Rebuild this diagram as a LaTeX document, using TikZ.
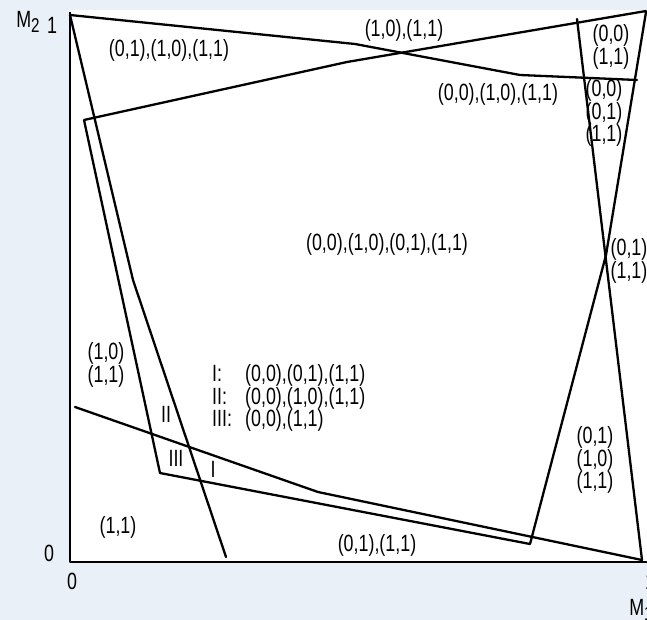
\documentclass[tikz,border=0pt]{standalone}
\usepackage{fontspec}
\setmainfont{Liberation Sans}[FakeStretch=0.76]
\definecolor{bgblue}{RGB}{233,240,248}
\begin{document}
\begin{tikzpicture}[x=1pt,y=-1pt,line join=round,line cap=round,
  curve/.style={line width=2.3pt},
  axis/.style={line width=2.8pt,line cap=butt},
  lbl/.style={font=\fontsize{23.5}{21.7}\selectfont,inner sep=0pt,align=center},
  lst/.style={font=\fontsize{23.5}{18}\selectfont,inner sep=0pt,align=left}]
\fill[bgblue] (0,0) rectangle (647,620);
\useasboundingbox (0,0) rectangle (647,620);
\fill[white] (70,10) rectangle (647,562);
% axes
\coordinate (o) at (70,562);
\coordinate (ytop) at (70,12);
\coordinate (xend) at (647,562);
\draw[axis] (ytop) -- (o) -- (xend);
% vertices
\coordinate (tl) at (70,15);
\coordinate (t1) at (355,44);
\coordinate (t2) at (520,75);
\coordinate (t3) at (637,80);
\coordinate (r0) at (646,11);
\coordinate (r1) at (347,62);
\coordinate (p0) at (84,120);
\coordinate (p1) at (160,473);
\coordinate (p2) at (530,544);
\coordinate (b1) at (606,255);
\coordinate (b2) at (646,12);
\coordinate (d0) at (75,407);
\coordinate (d1) at (318,492);
\coordinate (br) at (642,560);
\coordinate (e1) at (133,280);
\coordinate (e2) at (226,557);
\coordinate (a0) at (577,19);
% curves
\draw[curve] (tl) -- (t1) -- (t2) -- (t3);
\draw[curve] (r0) -- (r1) -- (p0) -- (p1) -- (p2) -- (b1) -- (b2);
\draw[curve] (d0) -- (d1) -- (br);
\draw[curve] (tl) -- (e1) -- (e2);
\draw[curve] (a0) -- (br);
% axis labels
\node[lbl] (m2) at (28,22) {M\raisebox{-5pt}{\fontsize{20}{20}\selectfont 2}};
\node[lbl] (y1) at (52,25) {1};
\node[lbl] (y0) at (49,553) {0};
\node[lbl] (x0) at (72,581) {0};
\node[lbl] (x1) at (650,581) {1};
\node[lbl] (m1) at (641,610) {M\raisebox{-5pt}{\fontsize{20}{20}\selectfont 1}};
% region labels
\node[lbl] (l1) at (169,50) {(0,1),(1,0),(1,1)};
\node[lbl] (l2) at (404,30) {(1,0),(1,1)};
\node[lbl] (l3) at (611,47) {(0,0)\\(1,1)};
\node[lbl] (l4) at (498,94) {(0,0),(1,0),(1,1)};
\node[lbl] (l5) at (604,113) {(0,0)\\(0,1)\\(1,1)};
\node[lbl] (l6) at (387,244) {(0,0),(1,0),(0,1),(1,1)};
\node[lbl,align=left] (l7) at (629,261) {(0,1)\\(1,1)};
\node[lbl] (l8) at (106,365) {(1,0)\\(1,1)};
\node[lbl] (l9) at (595,460) {(0,1)\\(1,0)\\(1,1)};
\node[lbl] (l10) at (118,527) {(1,1)};
\node[lbl] (l11) at (377,545) {(0,1),(1,1)};
\node[lbl] (rII) at (166,414) {II};
\node[lbl] (rIII) at (176,458) {III};
\node[lbl] (rI) at (213,469) {I};
% legend
\node[lst,anchor=west] (key) at (212,398) {\makebox[33pt][l]{I:}(0,0),(0,1),(1,1)\\
  \makebox[33pt][l]{II:}(0,0),(1,0),(1,1)\\
  \makebox[33pt][l]{III:}(0,0),(1,1)};
\end{tikzpicture}
\end{document}
